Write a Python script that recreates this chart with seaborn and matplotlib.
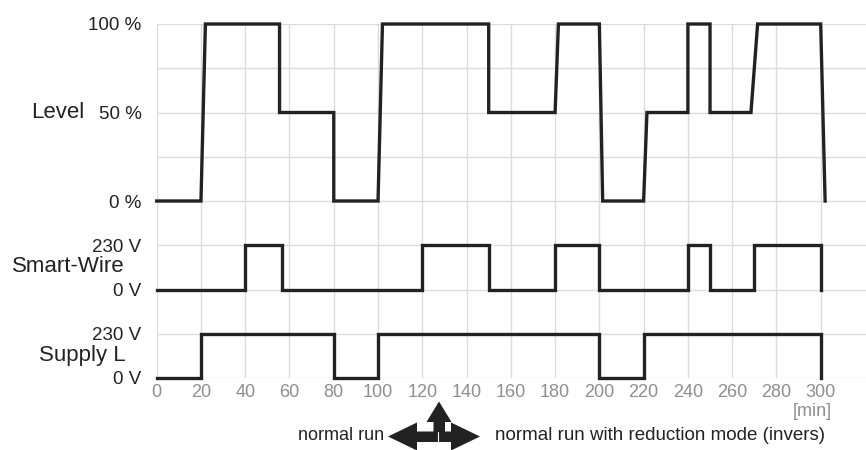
import matplotlib
matplotlib.use("Agg")
import matplotlib.pyplot as plt
import seaborn as sns
import pandas as pd
from matplotlib.patches import Polygon

# ---- data ----
level_time = [0, 20, 22, 55.5, 55.5, 80, 80, 100, 102, 150, 150, 180, 181.5, 200, 201.5,
              220, 221.5, 240, 240, 250, 250, 268.5, 271.5, 300, 302]
level_pct = [0, 0, 100, 100, 50, 50, 0, 0, 100, 100, 50, 50, 100, 100, 0,
             0, 50, 50, 100, 100, 50, 50, 100, 100, 0]

smart_time = [0, 40, 56.5, 120, 150, 180, 200, 240, 250, 270, 300]
smart_volt = [0, 230, 0, 230, 0, 230, 0, 230, 0, 230, 0]

supply_time = [0, 20, 80, 100, 200, 220, 300]
supply_volt = [0, 230, 0, 230, 0, 230, 0]

x_ticks = list(range(0, 301, 20))
y_tick_pos = [0, 1, 2, 3, 4, 5, 6, 7, 8]
y_tick_labels = ["0 V", "230 V", "0 V", "230 V", "0 %", "", "50 %", "", "100 %"]
series_names = ["Level", "Smart-Wire", "Supply L"]

# ---- style ----
sns.set_theme(style="whitegrid")
plt.rcParams["font.family"] = ["Liberation Sans", "DejaVu Sans"]

W, H, DPI = 866, 450, 100
fig = plt.figure(figsize=(W / DPI, H / DPI), dpi=DPI)

x0, x1, ytop, ybot = 156.7, 866, 24, 378
ax = fig.add_axes([x0 / W, (H - ybot) / H, (x1 - x0) / W, (ybot - ytop) / H])

line_col = "#222222"
lw = 2.4

level_df = pd.DataFrame({"t": level_time, "y": [4 + p / 25 for p in level_pct]})
smart_df = pd.DataFrame({"t": smart_time, "y": [2 + v / 230 for v in smart_volt]})
supply_df = pd.DataFrame({"t": supply_time, "y": [v / 230 for v in supply_volt]})

common = dict(color=line_col, linewidth=lw, estimator=None, sort=False, ax=ax,
              solid_joinstyle="miter", solid_capstyle="projecting", clip_on=False)
sns.lineplot(data=level_df, x="t", y="y", **common)
sns.lineplot(data=smart_df, x="t", y="y", drawstyle="steps-post", **common)
sns.lineplot(data=supply_df, x="t", y="y", drawstyle="steps-post", **common)

ax.set_xlim(0, (x1 - x0) / 2.2133)
ax.set_ylim(0, 8)
ax.set_xticks(x_ticks)
ax.set_xticklabels([str(t) for t in x_ticks])
ax.set_yticks(y_tick_pos)
ax.set_yticklabels(y_tick_labels)
ax.set_xlabel("")
ax.set_ylabel("")
for s in ax.spines.values():
    s.set_visible(False)
ax.grid(True, color="#dcdcdc", linewidth=1.0)
ax.tick_params(axis="x", length=0, pad=4, labelsize=13, labelcolor="#8f8f8f")
ax.tick_params(axis="y", length=0, pad=11, labelsize=13.5, labelcolor="#222222")
ax.set_facecolor("white")

# ---- overlay in pixel coordinates for annotations ----
ov = fig.add_axes([0, 0, 1, 1])
ov.set_xlim(0, W)
ov.set_ylim(H, 0)
ov.axis("off")
ov.patch.set_alpha(0)

name_kw = dict(fontsize=16, color="#222222", ha="right", va="center")
ov.text(84, 112, series_names[0], **name_kw)
ov.text(125, 266, series_names[1], **name_kw)
ov.text(126, 355, series_names[2], **name_kw)

ov.text(832, 411, "[min]", fontsize=13, color="#8f8f8f", ha="right", va="center")
ov.text(384.5, 436, "normal run", fontsize=13, color="#222222", ha="right", va="center")
ov.text(495, 436, "normal run with reduction mode (invers)", fontsize=13.5,
        color="#222222", ha="left", va="center")

arrow_col = "#222222"
lr = [(388, 436.5), (417, 422.5), (417, 431.5), (451, 431.5), (451, 422.5),
      (480, 436.5), (451, 450.5), (451, 442), (417, 442), (417, 450.5)]
ov.add_patch(Polygon(lr, closed=True, facecolor=arrow_col, edgecolor="none"))
up = [(439, 401.5), (451.5, 422), (445, 422), (445, 432), (433.5, 432),
      (433.5, 422), (426.5, 422)]
ov.add_patch(Polygon(up, closed=True, facecolor=arrow_col, edgecolor="none"))
ov.plot([437.5, 437.5], [432, 451], color="white", linewidth=0.8)

fig.savefig("out.png", dpi=DPI)
